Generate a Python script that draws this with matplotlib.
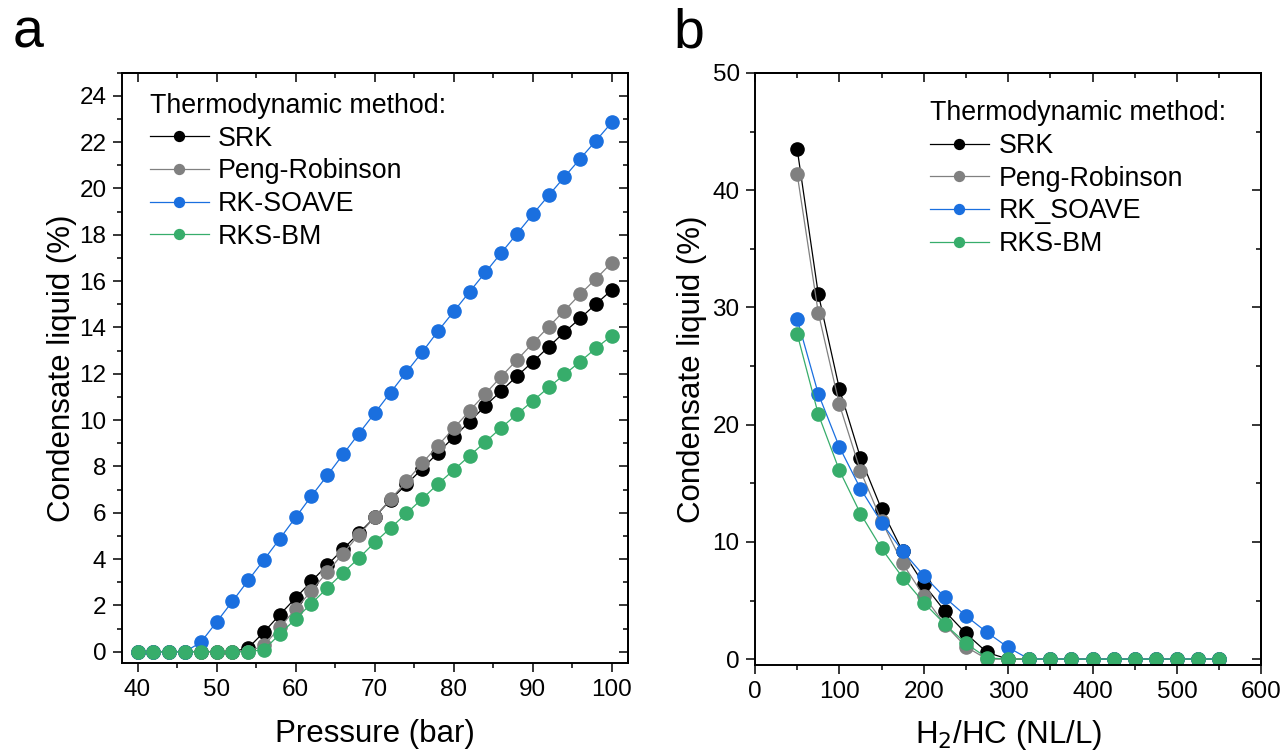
import matplotlib
matplotlib.use("Agg")
import matplotlib.pyplot as plt
from matplotlib.ticker import MultipleLocator

plt.rcParams['font.family'] = ['Liberation Sans', 'DejaVu Sans']

# ---------------- data: panel a ----------------
pressure = [40, 42, 44, 46, 48, 50, 52, 54, 56, 58, 60, 62, 64, 66, 68, 70,
            72, 74, 76, 78, 80, 82, 84, 86, 88, 90, 92, 94, 96, 98, 100]
a_srk = [0, 0, 0, 0, 0, 0, 0, 0.16, 0.85, 1.60, 2.32, 3.04, 3.74, 4.43, 5.12, 5.81,
         6.56, 7.22, 7.90, 8.59, 9.27, 9.93, 10.62, 11.26, 11.90, 12.52, 13.16,
         13.80, 14.40, 15.02, 15.62]
a_pr = [0, 0, 0, 0, 0, 0, 0, 0, 0.27, 1.05, 1.84, 2.63, 3.44, 4.24, 5.05, 5.81,
        6.58, 7.35, 8.14, 8.90, 9.65, 10.40, 11.14, 11.88, 12.60, 13.32, 14.03,
        14.73, 15.44, 16.11, 16.80]
a_rks = [0, 0, 0, 0, 0.40, 1.28, 2.17, 3.08, 3.97, 4.88, 5.80, 6.72, 7.61, 8.52,
         9.42, 10.30, 11.19, 12.07, 12.93, 13.84, 14.69, 15.54, 16.38, 17.22,
         18.05, 18.89, 19.70, 20.50, 21.29, 22.07, 22.86]
a_bm = [0, 0, 0, 0, 0, 0, 0, 0, 0.09, 0.76, 1.42, 2.08, 2.75, 3.41, 4.04, 4.72,
        5.34, 5.97, 6.60, 7.24, 7.85, 8.46, 9.06, 9.67, 10.26, 10.83, 11.41,
        11.97, 12.53, 13.11, 13.65]
a_labels = ["SRK", "Peng-Robinson", "RK-SOAVE", "RKS-BM"]

# ---------------- data: panel b ----------------
h2hc = [50, 75, 100, 125, 150, 175, 200, 225, 250, 275, 300, 325, 350, 375,
        400, 425, 450, 475, 500, 525, 550]
b_srk = [43.54, 31.18, 23.08, 17.19, 12.79, 9.20, 6.39, 4.09, 2.19, 0.57, 0,
         0, 0, 0, 0, 0, 0, 0, 0, 0, 0]
b_pr = [41.40, 29.56, 21.74, 16.06, 11.80, 8.16, 5.40, 2.95, 1.05, 0, 0,
        0, 0, 0, 0, 0, 0, 0, 0, 0, 0]
b_rks = [29.04, 22.65, 18.10, 14.55, 11.65, 9.21, 7.13, 5.26, 3.69, 2.28, 1.00,
         0, 0, 0, 0, 0, 0, 0, 0, 0, 0]
b_bm = [27.76, 20.91, 16.11, 12.42, 9.44, 6.96, 4.83, 2.98, 1.34, 0.11, 0,
        0, 0, 0, 0, 0, 0, 0, 0, 0, 0]
b_labels = ["SRK", "Peng-Robinson", "RK_SOAVE", "RKS-BM"]

colors = ["#000000", "#808080", "#1A6FDF", "#37AD6B"]
legend_title = "Thermodynamic method:"

TICK_FS = 17.5
LABEL_FS = 22.5
LEG_FS = 19.3

fig = plt.figure(figsize=(12.85, 7.51), dpi=100)
ax1 = fig.add_axes([0.0947, 0.1168, 0.3938, 0.7864])
ax2 = fig.add_axes([0.5875, 0.1145, 0.3941, 0.7883])


def style_axes(ax, xmaj, xmin, ymaj, ymin):
    for s in ax.spines.values():
        s.set_linewidth(1.4)
    ax.xaxis.set_major_locator(MultipleLocator(xmaj))
    ax.xaxis.set_minor_locator(MultipleLocator(xmin))
    ax.yaxis.set_major_locator(MultipleLocator(ymaj))
    ax.yaxis.set_minor_locator(MultipleLocator(ymin))
    ax.tick_params(which='major', direction='out', length=6.5, width=1.1,
                   labelsize=TICK_FS)
    ax.tick_params(axis='y', which='major', pad=4.5)
    ax.tick_params(axis='x', which='major', pad=5)
    ax.tick_params(which='minor', direction='out', length=3.5, width=1.1)
    sx = ax.secondary_xaxis('top')
    sy = ax.secondary_yaxis('right')
    for sa, axis in ((sx, sx.xaxis), (sy, sy.yaxis)):
        axis.set_major_locator(MultipleLocator(xmaj if sa is sx else ymaj))
        axis.set_minor_locator(MultipleLocator(xmin if sa is sx else ymin))
        sa.tick_params(which='major', direction='in', length=6.5, width=1.1,
                       labelleft=False, labelright=False, labeltop=False,
                       labelbottom=False)
        sa.tick_params(which='minor', direction='in', length=3.5, width=1.1)
        for s in sa.spines.values():
            s.set_linewidth(1.4)


# ---------------- panel a ----------------
for ys, lab, c in zip([a_srk, a_pr, a_rks, a_bm], a_labels, colors):
    ax1.plot(pressure, ys, '-o', color=c, lw=0.9, ms=9.5, mec=c, label=lab)
ax1.set_xlim(38, 102)
ax1.set_ylim(-0.5, 25)
style_axes(ax1, 10, 5, 2, 1)
ax1.set_xlabel("Pressure (bar)", fontsize=LABEL_FS, labelpad=13)
ax1.set_ylabel("Condensate liquid (%)", fontsize=LABEL_FS, labelpad=1.5)
leg1 = ax1.legend(title=legend_title, loc='upper left',
                  bbox_to_anchor=(0.045, 0.975), frameon=False,
                  fontsize=LEG_FS, title_fontsize=LEG_FS, alignment='left',
                  handlelength=2.2, handletextpad=0.35, labelspacing=0.25,
                  borderpad=0.2, borderaxespad=0, markerscale=0.75)

# ---------------- panel b ----------------
for ys, lab, c in zip([b_srk, b_pr, b_rks, b_bm], b_labels, colors):
    ax2.plot(h2hc, ys, '-o', color=c, lw=0.9, ms=9.5, mec=c, label=lab)
ax2.set_xlim(0, 600)
ax2.set_ylim(-0.5, 50)
style_axes(ax2, 100, 50, 10, 5)
ax2.set_xlabel("H$_2$/HC (NL/L)", fontsize=LABEL_FS, labelpad=11)
ax2.set_ylabel("Condensate liquid (%)", fontsize=LABEL_FS, labelpad=4)
leg2 = ax2.legend(title=legend_title, loc='upper left',
                  bbox_to_anchor=(0.335, 0.963), frameon=False,
                  fontsize=LEG_FS, title_fontsize=LEG_FS, alignment='left',
                  handlelength=2.2, handletextpad=0.35, labelspacing=0.25,
                  borderpad=0.2, borderaxespad=0, markerscale=0.75)

fig.text(13 / 1285, 1 - 47 / 751, "a", fontsize=40, ha='left', va='baseline')
fig.text(673 / 1285, 1 - 47 / 751, "b", fontsize=40, ha='left', va='baseline')

fig.savefig("out.png", dpi=100)
